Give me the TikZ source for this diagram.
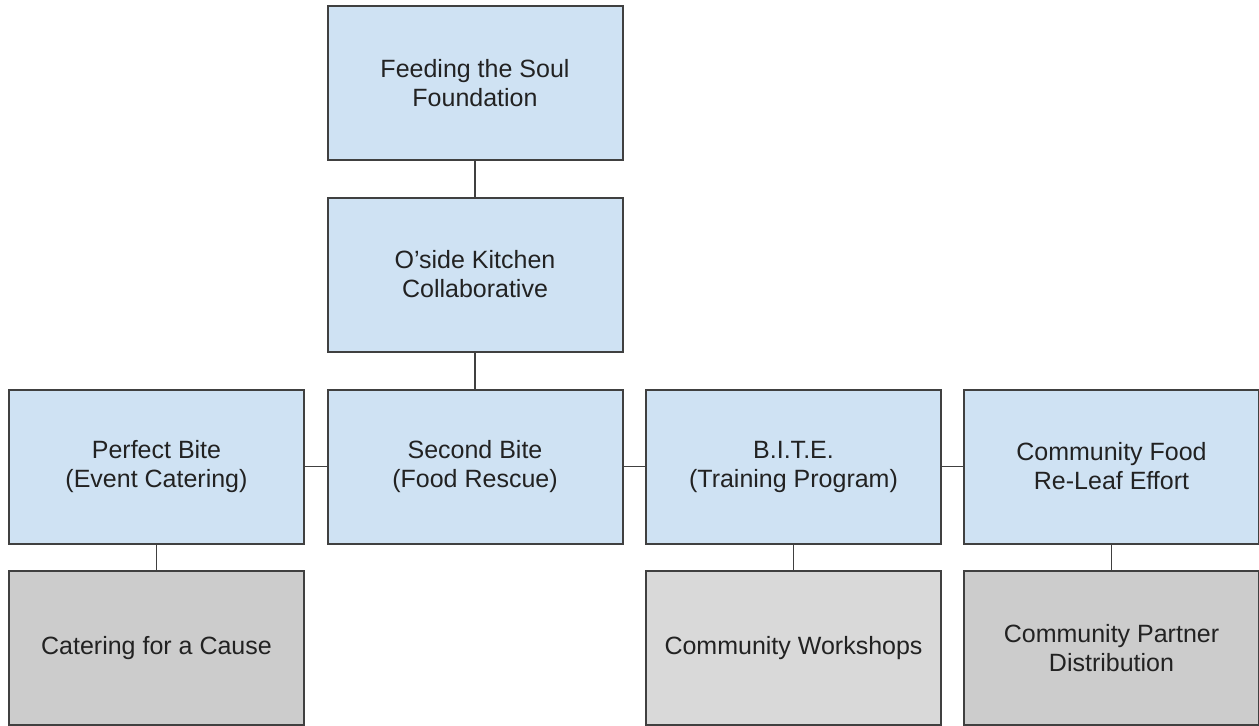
\documentclass[tikz,border=0pt]{standalone}
\usepackage{fontspec}
\setmainfont{Liberation Sans}
\definecolor{boxblue}{HTML}{CFE2F3}
\definecolor{boxgray}{HTML}{CCCCCC}
\definecolor{boxlight}{HTML}{D9D9D9}
\definecolor{edge}{HTML}{404040}
\definecolor{ink}{HTML}{222222}
\tikzset{
  box/.style={draw=edge,line width=1.5pt,fill=boxblue,minimum width=221.25pt,minimum height=115.5pt,
    inner sep=0pt,align=center,text=ink,font=\fontsize{18.75}{21.75}\selectfont},
  link/.style={draw=edge,line width=1.2pt}
}
\begin{document}
\begin{tikzpicture}[x=0.75pt,y=-0.75pt]
\useasboundingbox[fill=white] (0,0) rectangle (1259,725);
\node[box] (a) at (475,83) {Feeding the Soul\\Foundation};
\node[box] (b) at (475,274.5) {O’side Kitchen\\Collaborative};
\node[box] (c) at (156.5,466.5) {Perfect Bite\\(Event Catering)};
\node[box] (d) at (475,466.5) {Second Bite\\(Food Rescue)};
\node[box] (e) at (793.5,466.5) {B.I.T.E.\\(Training Program)};
\node[box] (f) at (1111.5,466.5) {Community Food\\Re-Leaf Effort};
\node[box,fill=boxgray] (g) at (156.5,648) {Catering for a Cause};
\node[box,fill=boxlight] (h) at (793.5,648) {Community Workshops};
\node[box,fill=boxgray] (i) at (1111.5,648) {Community Partner\\Distribution};
\draw[link] (a) -- (b);
\draw[link] (b) -- (d);
\draw[link] (c) -- (d);
\draw[link] (d) -- (e);
\draw[link] (e) -- (f);
\draw[link] (c) -- (g);
\draw[link] (e) -- (h);
\draw[link] (f) -- (i);
\end{tikzpicture}
\end{document}
